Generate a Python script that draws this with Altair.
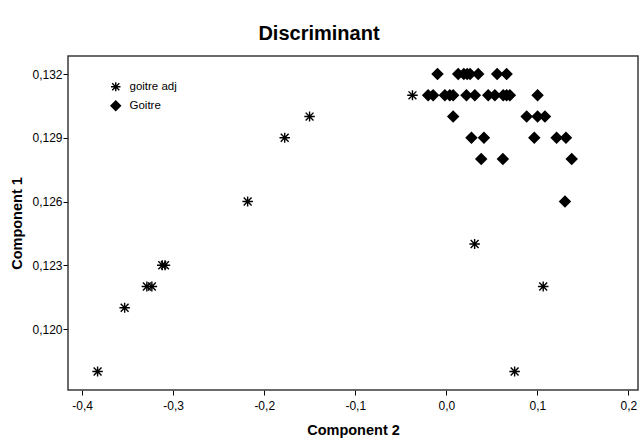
import altair as alt
import pandas as pd

# Goitre adj (asterisks)
adj_x = [-0.383, -0.3533, -0.3289, -0.3234, -0.312, -0.309, -0.2182, -0.1775, -0.1502, -0.0372, 0.0311, 0.1064, 0.075]
adj_y = [0.118, 0.121, 0.122, 0.122, 0.123, 0.123, 0.126, 0.129, 0.130, 0.131, 0.124, 0.122, 0.118]

# Goitre (diamonds)
goitre_x = [-0.0097, 0.0130, 0.0192, 0.0229, 0.0261, 0.0350, 0.0558, 0.0662,
            -0.0200, -0.0145, -0.0016, 0.0038, 0.0075, 0.0221, 0.0313, 0.0460, 0.0533, 0.0625, 0.0662, 0.0698, 0.1002,
            0.0075, 0.0882, 0.1002, 0.1083,
            0.0276, 0.0413, 0.0966, 0.1211, 0.1314,
            0.0383, 0.0621, 0.1377,
            0.1303]
goitre_y = [0.132] * 8 + [0.131] * 13 + [0.130] * 4 + [0.129] * 5 + [0.128] * 3 + [0.126]

groups = ["goitre adj", "Goitre"]
x_ticks = [-0.4, -0.3, -0.2, -0.1, 0.0, 0.1, 0.2]
y_ticks = [0.120, 0.123, 0.126, 0.129, 0.132]

df = pd.DataFrame({
    "c2": adj_x + goitre_x,
    "c1": adj_y + goitre_y,
    "grp": [groups[0]] * len(adj_x) + [groups[1]] * len(goitre_x),
})

asterisk = "M0,-0.95L0,0.95M-1,0L1,0M-0.75,-0.75L0.75,0.75M-0.75,0.75L0.75,-0.75"
FONT = "Liberation Sans"
W, H = 570, 334

legend = alt.Legend(title=None, orient="none", legendX=42, legendY=25,
                    labelFont=FONT, labelFontSize=11.5, labelColor="black",
                    symbolStrokeWidth=1.4, symbolSize=90, rowPadding=3, labelOffset=8)
black = alt.Scale(domain=groups, range=["black", "black"])

points = alt.Chart(df).mark_point(filled=True, strokeWidth=1.4, opacity=1, size=110).encode(
    x=alt.X("c2:Q", title="Component 2",
            scale=alt.Scale(domain=[-0.4155, 0.2105], nice=False, zero=False),
            axis=alt.Axis(values=x_ticks, grid=False, domain=False,
                          labelExpr="replace(replace(format(datum.value, '.1f'), '.', ','), '\u2212', '-')",
                          tickColor="black", tickSize=5, labelFontSize=12, labelColor="black", labelFont=FONT,
                          labelPadding=5, titleFont=FONT, titleFontSize=14.5, titleFontWeight="bold",
                          titleColor="black", titlePadding=12)),
    y=alt.Y("c1:Q", title="Component 1",
            scale=alt.Scale(domain=[0.11713, 0.13285], nice=False, zero=False),
            axis=alt.Axis(values=y_ticks, grid=False, domain=False,
                          labelExpr="replace(format(datum.value, '.3f'), '.', ',')",
                          tickColor="black", tickSize=5, labelFontSize=12, labelColor="black", labelFont=FONT,
                          labelPadding=1, titleFont=FONT, titleFontSize=14.5, titleFontWeight="bold",
                          titleColor="black", titlePadding=7)),
    shape=alt.Shape("grp:N", scale=alt.Scale(domain=groups, range=[asterisk, "diamond"]), legend=legend),
    color=alt.Color("grp:N", scale=black, legend=legend),
    stroke=alt.Stroke("grp:N", scale=black, legend=legend),
)

frame = alt.Chart(pd.DataFrame({"f": [0]})).mark_rect(
    fill=None, fillOpacity=0, stroke="#3a3a3a", strokeWidth=1.5
).encode(x=alt.value(0), x2=alt.value(W), y=alt.value(0), y2=alt.value(H))

chart = alt.layer(points, frame).properties(
    width=W, height=H,
    title=alt.TitleParams("Discriminant", font=FONT, fontSize=20, fontWeight="bold", color="black",
                          anchor="middle", dx=-34, offset=11),
    autosize=alt.AutoSizeParams(type="none"),
    padding={"left": 68, "top": 56, "right": 3, "bottom": 49},
).configure(background="white").configure_view(strokeWidth=0)

chart.save("out.html", embed_options={"renderer": "svg", "actions": False})
